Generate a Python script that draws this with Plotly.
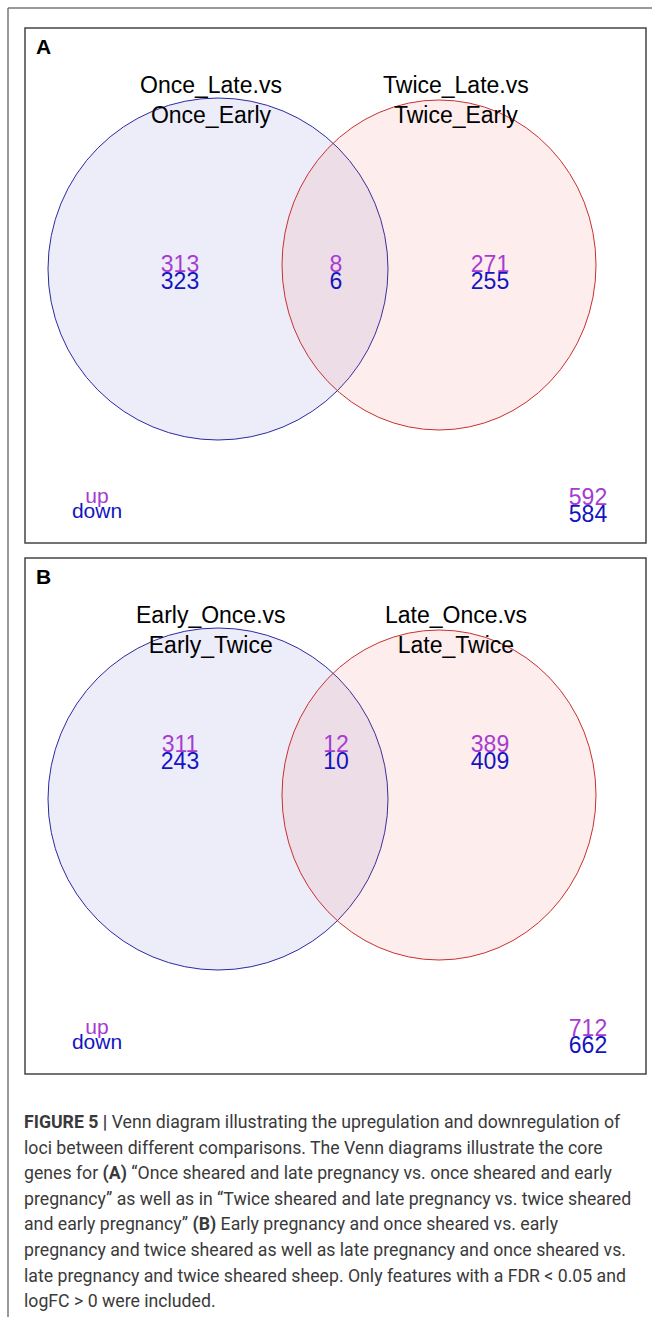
import plotly.graph_objects as go

# ---- data -------------------------------------------------------------
panel_labels = ["A", "B"]
set_names_A = ["Once_Late.vs<br>Once_Early", "Twice_Late.vs<br>Twice_Early"]
set_names_B = ["Early_Once.vs<br>Early_Twice", "Late_Once.vs<br>Late_Twice"]
# regions: left only, shared, right only
up_A = [313, 8, 271]
down_A = [323, 6, 255]
up_B = [311, 12, 389]
down_B = [243, 10, 409]

caption_lines = [
    "<b>FIGURE 5 |</b> Venn diagram illustrating the upregulation and downregulation of",
    "loci between different comparisons. The Venn diagrams illustrate the core",
    "genes for <b>(A)</b> \u201cOnce sheared and late pregnancy vs. once sheared and early",
    "pregnancy\u201d as well as in \u201cTwice sheared and late pregnancy vs. twice sheared",
    "and early pregnancy\u201d <b>(B)</b> Early pregnancy and once sheared vs. early",
    "pregnancy and twice sheared as well as late pregnancy and once sheared vs.",
    "late pregnancy and twice sheared sheep. Only features with a FDR < 0.05 and",
    "logFC > 0 were included.",
]

# ---- styling / layout -------------------------------------------------
W, H = 652, 1317
UP_COLOR = "#a63cd0"
DOWN_COLOR = "#1414c0"
FONT = "Liberation Sans, Arial, sans-serif"

panels = [
    dict(label="A", names=set_names_A, up=up_A, down=down_A, top=28, bottom=543, count_y=238),
    dict(label="B", names=set_names_B, up=up_B, down=down_B, top=558, bottom=1074, count_y=188),
]

fig = go.Figure()
shapes = []
annotations = []

# outer frame (left and top rules)
shapes.append(dict(type="line", x0=8, x1=8, y0=8, y1=H, line=dict(color="#777", width=1.5)))
shapes.append(dict(type="line", x0=8, x1=W, y0=8, y1=8, line=dict(color="#777", width=1.5)))

for p in panels:
    t = p["top"]
    # panel box
    shapes.append(dict(type="rect", x0=25, x1=646, y0=t, y1=p["bottom"],
                       line=dict(color="#444", width=1.5)))
    annotations.append(dict(x=34, y=t + 18, text="<b>%s</b>" % p["label"], showarrow=False,
                            xanchor="left", yanchor="middle",
                            font=dict(family=FONT, size=21, color="black")))
    # set titles
    for cx, name in zip([211, 456], p["names"]):
        annotations.append(dict(x=cx, y=t + 72, text=name, showarrow=False,
                                xanchor="center", yanchor="middle",
                                font=dict(family=FONT, size=23, color="black")))
    # circles
    shapes.append(dict(type="circle", layer="below", x0=218 - 170, x1=218 + 170,
                       y0=t + 241 - 171, y1=t + 241 + 171,
                       fillcolor="rgba(60,60,200,0.09)", line=dict(color="#2a2aa0", width=1)))
    shapes.append(dict(type="circle", layer="below", x0=439 - 157, x1=439 + 157,
                       y0=t + 237 - 165, y1=t + 237 + 165,
                       fillcolor="rgba(240,90,80,0.11)", line=dict(color="#c83030", width=1)))

    # region counts
    xs = [180, 336, 490]
    cy = t + p["count_y"]
    fig.add_trace(go.Scatter(x=xs, y=[cy] * 3, mode="text",
                             text=[str(v) for v in p["up"]],
                             textfont=dict(family=FONT, size=23, color=UP_COLOR),
                             hoverinfo="skip", showlegend=False))
    fig.add_trace(go.Scatter(x=xs, y=[cy + 17] * 3, mode="text",
                             text=[str(v) for v in p["down"]],
                             textfont=dict(family=FONT, size=23, color=DOWN_COLOR),
                             hoverinfo="skip", showlegend=False))
    # legend words and totals
    b = p["bottom"]
    fig.add_trace(go.Scatter(x=[97, 588], y=[b - 45, b - 44], mode="text",
                             text=["up", str(sum(p["up"]))],
                             textfont=dict(family=FONT, size=[21, 23], color=UP_COLOR),
                             hoverinfo="skip", showlegend=False))
    fig.add_trace(go.Scatter(x=[97, 588], y=[b - 30, b - 27], mode="text",
                             text=["down", str(sum(p["down"]))],
                             textfont=dict(family=FONT, size=[21, 23], color=DOWN_COLOR),
                             hoverinfo="skip", showlegend=False))

# caption
for i, line in enumerate(caption_lines):
    annotations.append(dict(x=22, y=1122 + i * 25.6, text=line, showarrow=False,
                            xanchor="left", yanchor="middle",
                            font=dict(family="Roboto, sans-serif", size=17.7, color="#3a3a3a")))

fig.update_layout(
    width=W, height=H, margin=dict(l=0, r=0, t=0, b=0),
    paper_bgcolor="white", plot_bgcolor="white",
    xaxis=dict(range=[0, W], visible=False, fixedrange=True),
    yaxis=dict(range=[H, 0], visible=False, fixedrange=True),
    shapes=shapes, annotations=annotations,
)

fig.write_html("out.html")
